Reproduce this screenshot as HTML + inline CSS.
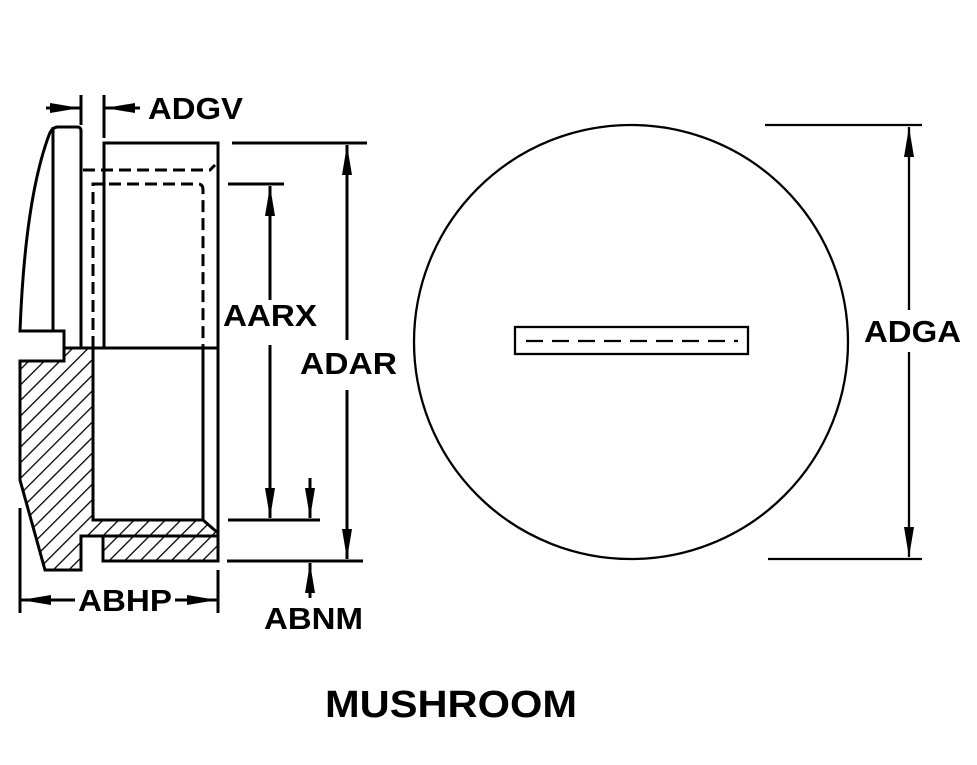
<!DOCTYPE html>
<html><head><style>
html,body{margin:0;padding:0;background:#fff;}
svg{display:block;}
text{font-family:"Liberation Sans",Arial,sans-serif;font-weight:bold;fill:#000;}
</style></head><body>
<svg width="977" height="765" viewBox="0 0 977 765" xmlns="http://www.w3.org/2000/svg">
<defs>
<pattern id="h" patternUnits="userSpaceOnUse" width="11" height="11" patternTransform="rotate(45)">
<rect width="11" height="11" fill="#fff"/>
<line x1="0" y1="0" x2="0" y2="11" stroke="#000" stroke-width="2.6"/>
</pattern>
<marker id="a" viewBox="0 0 30 12" refX="30" refY="6" markerWidth="30" markerHeight="12" markerUnits="userSpaceOnUse" orient="auto-start-reverse">
<path d="M0,1 L30,6 L0,11 z" fill="#000"/>
</marker>
</defs>
<g fill="none" stroke="#000" stroke-width="3">
<path d="M81,348 L81,131 Q81,127 77,127 L58,127 Q52,127 49,135 Q25,200 20,331 L64,331 L64,361"/>
<line x1="53" y1="127" x2="53" y2="331"/>
<path d="M20,361 L64,361 L64,348 L93,348 L93,520 L203,520 L218,533 L218,536 L81,536 L81,570 L45,570 L20,480 Z" fill="url(#h)"/>
<rect x="103" y="536" width="115" height="25" fill="url(#h)"/>
<path d="M104,348 L104,143 L218,143 L218,561"/>
<line x1="64" y1="348" x2="218" y2="348"/>
<line x1="203" y1="348" x2="203" y2="520"/>
<path d="M83,170 L210,170 L215,165" stroke-dasharray="12,6"/>
<path d="M93,348 L93,184 L198,184 Q203,184 203,190 L203,348" stroke-dasharray="12,6"/>
<line x1="81" y1="95" x2="81" y2="125"/>
<line x1="104" y1="95" x2="104" y2="138"/>
<line x1="46" y1="108" x2="80" y2="108" marker-end="url(#a)"/>
<line x1="140" y1="108" x2="105" y2="108" marker-end="url(#a)"/>
<line x1="20" y1="508" x2="20" y2="613"/>
<line x1="218" y1="570" x2="218" y2="613"/>
<line x1="75" y1="600" x2="21" y2="600" marker-end="url(#a)"/>
<line x1="175" y1="600" x2="217" y2="600" marker-end="url(#a)"/>
<line x1="228" y1="184" x2="284" y2="184"/>
<line x1="228" y1="520" x2="320" y2="520"/>
<line x1="270" y1="300" x2="270" y2="186" marker-end="url(#a)"/>
<line x1="270" y1="345" x2="270" y2="518" marker-end="url(#a)"/>
<line x1="310" y1="478" x2="310" y2="518" marker-end="url(#a)"/>
<line x1="232" y1="143" x2="367" y2="143"/>
<line x1="227" y1="561" x2="363" y2="561"/>
<line x1="347" y1="340" x2="347" y2="145" marker-end="url(#a)"/>
<line x1="347" y1="390" x2="347" y2="559" marker-end="url(#a)"/>
<line x1="310" y1="598" x2="310" y2="563" marker-end="url(#a)"/>
<circle cx="631" cy="342" r="217" stroke-width="2.3"/>
<rect x="515" y="327" width="233" height="27" stroke-width="2.3"/>
<line x1="526" y1="341" x2="738" y2="341" stroke-width="2.3" stroke-dasharray="17,9"/>
<line x1="765" y1="125" x2="922" y2="125" stroke-width="2.3"/>
<line x1="768" y1="559" x2="922" y2="559" stroke-width="2.3"/>
<line x1="909" y1="310" x2="909" y2="127" stroke-width="2.3" marker-end="url(#a)"/>
<line x1="909" y1="352" x2="909" y2="557" stroke-width="2.3" marker-end="url(#a)"/>
</g>
<text x="148" y="119" font-size="31" textLength="95" lengthAdjust="spacingAndGlyphs">ADGV</text>
<text x="223" y="326" font-size="31" textLength="94" lengthAdjust="spacingAndGlyphs">AARX</text>
<text x="300" y="374" font-size="31" textLength="97" lengthAdjust="spacingAndGlyphs">ADAR</text>
<text x="78" y="611" font-size="31" textLength="94" lengthAdjust="spacingAndGlyphs">ABHP</text>
<text x="264" y="629" font-size="31" textLength="99" lengthAdjust="spacingAndGlyphs">ABNM</text>
<text x="864" y="342" font-size="31" textLength="97" lengthAdjust="spacingAndGlyphs">ADGA</text>
<text x="325" y="717" font-size="38" textLength="252" lengthAdjust="spacingAndGlyphs">MUSHROOM</text>
</svg>
</body></html>
